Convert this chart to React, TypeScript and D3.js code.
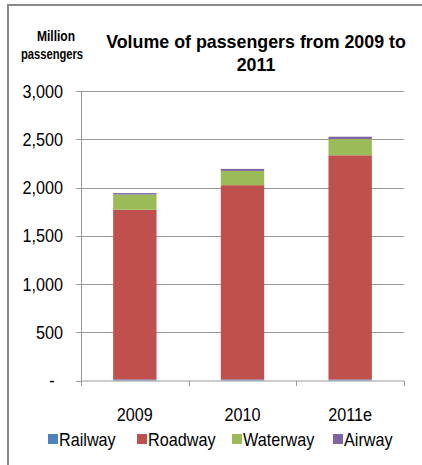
import React from "react";
import * as d3 from "d3";

const categories = ["2009", "2010", "2011e"];
const seriesNames = ["Railway", "Roadway", "Waterway", "Airway"];
const railway = [11, 11, 11];
const roadway = [1760, 2015, 2325];
const waterway = [158, 148, 169];
const airway = [15, 21, 24];
const yTicks = [0, 500, 1000, 1500, 2000, 2500, 3000];
const colors = ["#4F81BD", "#C0504D", "#9BBB59", "#8064A2"];

const W = 422;
const H = 465;
const FONT = "'Liberation Sans', Arial, sans-serif";
const SX = 0.9;

function T(props: {
  x: number;
  y: number;
  anchor?: string;
  size?: number;
  weight?: string;
  sx?: number;
  children: React.ReactNode;
}) {
  const { x, y, anchor = "start", size = 18, weight = "normal", sx = SX } = props;
  return (
    <text
      transform={`translate(${x},${y}) scale(${sx},1)`}
      textAnchor={anchor}
      fontSize={size}
      fontWeight={weight}
      fill="#000"
    >
      {props.children}
    </text>
  );
}

export default function App() {
  const x = d3
    .scaleBand<string>()
    .domain(categories)
    .range([81, 404])
    .paddingInner(0.597)
    .paddingOuter(0.2985);
  const y = d3.scaleLinear().domain([0, 3000]).range([380.5, 91.3]);

  const rows = categories.map((c, i) => ({
    cat: c,
    Railway: railway[i],
    Roadway: roadway[i],
    Waterway: waterway[i],
    Airway: airway[i],
  }));
  const stacked = d3.stack<any>().keys(seriesNames)(rows);
  const fmt = (v: number) => (v === 0 ? "-" : d3.format(",")(v));

  const legendItems = [
    { name: "Railway", sx: 48 },
    { name: "Roadway", sx: 137 },
    { name: "Waterway", sx: 232 },
    { name: "Airway", sx: 333 },
  ];

  return (
    <svg
      width={W}
      height={H}
      style={{ position: "absolute", left: 0, top: 0, background: "#fff" }}
      fontFamily={FONT}
    >
      <rect x={0} y={0} width={W} height={H} fill="#fff" />
      {/* frame */}
      <line x1={7} y1={5} x2={W} y2={5} stroke="#8a8a8a" strokeWidth={2} />
      <line x1={8} y1={4} x2={8} y2={H} stroke="#8a8a8a" strokeWidth={2} />

      {/* gridlines */}
      {yTicks.map((t) => (
        <g key={t}>
          {t !== 0 && (
            <line
              x1={81}
              x2={404}
              y1={Math.round(y(t)) + 0.5}
              y2={Math.round(y(t)) + 0.5}
              stroke="#999"
              strokeWidth={1}
            />
          )}
          <line
            x1={76}
            x2={81}
            y1={Math.round(y(t)) + 0.5}
            y2={Math.round(y(t)) + 0.5}
            stroke="#999"
          />
          <T x={t === 0 ? 52 : 63} y={y(t) + 6.5} anchor={t === 0 ? "middle" : "end"}>
            {fmt(t)}
          </T>
        </g>
      ))}

      {/* bars */}
      {stacked.map((s, si) =>
        s.map((d, i) => (
          <rect
            key={si + "-" + i}
            x={x(categories[i])!}
            width={x.bandwidth()}
            y={y(d[1])}
            height={y(d[0]) - y(d[1])}
            fill={colors[si]}
          />
        ))
      )}

      {/* axes */}
      <line x1={81.5} x2={81.5} y1={91} y2={381} stroke="#999" />
      <line x1={81} x2={404} y1={381} y2={381} stroke="#999" />
      {[81, 81 + x.step(), 81 + 2 * x.step(), 404].map((tx, i) => (
        <line
          key={i}
          x1={Math.round(tx) + 0.5}
          x2={Math.round(tx) + 0.5}
          y1={381}
          y2={386}
          stroke="#999"
        />
      ))}
      {categories.map((c) => (
        <T key={c} x={x(c)! + x.bandwidth() / 2} y={421} anchor="middle">
          {c}
        </T>
      ))}

      {/* legend */}
      {legendItems.map((l, i) => (
        <g key={l.name}>
          <rect x={l.sx} y={434} width={10} height={10} fill={colors[i]} />
          <T x={l.sx + 11} y={446}>
            {l.name}
          </T>
        </g>
      ))}

      {/* titles */}
      <T x={56} y={41} anchor="middle" size={15} weight="bold" sx={0.8}>
        Million
      </T>
      <T x={52} y={59} anchor="middle" size={14} weight="bold" sx={0.8}>
        passengers
      </T>
      <T x={256} y={48} anchor="middle" size={18} weight="bold" sx={0.99}>
        Volume of passengers from 2009 to
      </T>
      <T x={256} y={71} anchor="middle" size={18} weight="bold" sx={0.99}>
        2011
      </T>
    </svg>
  );
}
